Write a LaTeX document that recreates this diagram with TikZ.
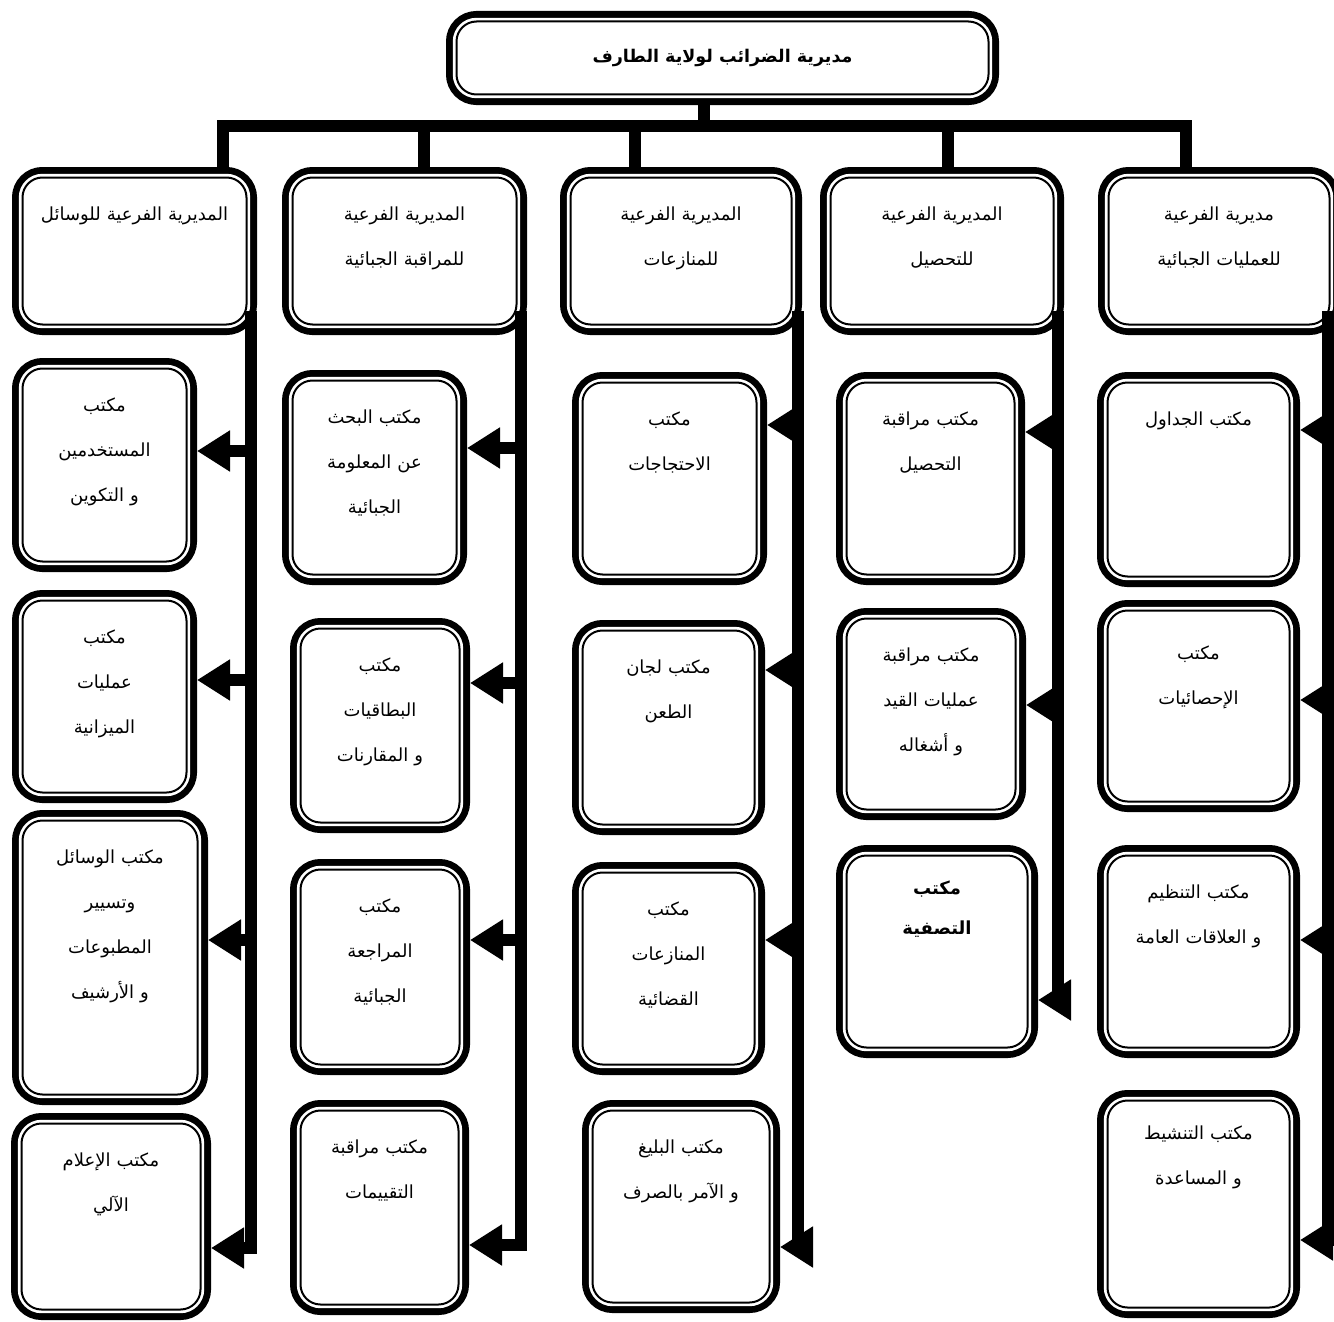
\documentclass[tikz,border=0pt]{standalone}
\usepackage{fontspec}
\usepackage{tikz}
\usetikzlibrary{arrows.meta}
\newfontfamily\arabicfont[Script=Arabic]{DejaVu Sans}
\TeXXeTstate=1
\newcommand{\arline}[1]{\beginR #1\endR}
\tikzset{
	bx/.style={draw, fill=white, line width=2pt, rounded corners=20pt, inner sep=0pt, outer sep=10.5pt,
		preaction={draw, line width=21pt}, preaction={draw=white, line width=7.4pt}},
	office/.style 2 args={bx, align=center, text width=#1, text height=43pt, text depth=#2,
		font=\arabicfont\fontsize{18}{45}\selectfont},
	link/.style={line width=12pt},
	trunk/.style={line width=12pt, line cap=rect},
	arr/.style={line width=12pt, -{Triangle[length=33pt, width=39pt]}}
}
\begin{document}
\begin{tikzpicture}[x=1pt, y=-1pt]
		\useasboundingbox (0,0) rectangle (1334,1322);
		\node[bx, minimum width=532pt, minimum height=73pt, font=\arabicfont\bfseries\fontsize{17.5}{20}\selectfont] (top) at (722.5,58) {\arline{مديرية الضرائب لولاية الطارف}};
		
		\node[office={224pt}{104pt}] (sub1) at (134.5,251) {\arline{المديرية الفرعية للوسائل}};
		\node[office={224pt}{104pt}] (sub2) at (404.5,251) {\arline{المديرية الفرعية}\\\arline{للمراقبة الجبائية}};
		\node[office={221pt}{104pt}] (sub3) at (681,251) {\arline{المديرية الفرعية}\\\arline{للمنازعات}};
		\node[office={223pt}{104pt}] (sub4) at (942,251) {\arline{المديرية الفرعية}\\\arline{للتحصيل}};
		\node[office={221pt}{104pt}] (sub5) at (1219,251) {\arline{مديرية الفرعية}\\\arline{للعمليات الجبائية}};
		
		\node[office={164pt}{150pt}] (o11) at (104.5,465) {\arline{مكتب}\\\arline{المستخدمين}\\\arline{و التكوين}};
		\node[office={164pt}{149pt}] (o12) at (104.5,696.5) {\arline{مكتب}\\\arline{عمليات}\\\arline{الميزانية}};
		\node[office={175pt}{231pt}] (o13) at (110,957.5) {\arline{مكتب الوسائل}\\\arline{وتسيير}\\\arline{المطبوعات}\\\arline{و الأرشيف}};
		\node[office={179pt}{143pt}] (o14) at (111,1216.5) {\arline{مكتب الإعلام}\\\arline{الآلي}};
		
		\node[office={164pt}{151pt}] (o21) at (374.5,477.5) {\arline{مكتب البحث}\\\arline{عن المعلومة}\\\arline{الجبائية}};
		\node[office={159pt}{151pt}] (o22) at (380,725.5) {\arline{مكتب}\\\arline{البطاقيات}\\\arline{و المقارنات}};
		\node[office={159pt}{152pt}] (o23) at (380,967) {\arline{مكتب}\\\arline{المراجعة}\\\arline{الجبائية}};
		\node[office={158pt}{151pt}] (o24) at (379.5,1207.5) {\arline{مكتب مراقبة}\\\arline{التقييمات}};
		
		\node[office={174pt}{149pt}] (o31) at (669.5,478.5) {\arline{مكتب}\\\arline{الاحتجاجات}};
		\node[office={172pt}{151pt}] (o32) at (668.5,727.5) {\arline{مكتب لجان}\\\arline{الطعن}};
		\node[office={172pt}{149pt}] (o33) at (668.5,968.5) {\arline{مكتب}\\\arline{المنازعات}\\\arline{القضائية}};
		\node[office={177pt}{149pt}] (o34) at (681,1206.5) {\arline{مكتب البليغ}\\\arline{و الآمر بالصرف}};
		
		\node[office={168pt}{149pt}] (o41) at (930.5,478.5) {\arline{مكتب مراقبة}\\\arline{التحصيل}};
		\node[office={169pt}{148pt}] (o42) at (931,714) {\arline{مكتب مراقبة}\\\arline{عمليات القيد}\\\arline{و أشغاله}};
		\node[office={181pt}{153pt}, text height=39pt, font=\arabicfont\bfseries\fontsize{18}{40}\selectfont] (o43) at (937,951.5) {\arline{مكتب}\\\arline{التصفية}};
		
		\node[office={182pt}{151pt}] (o51) at (1198.5,479.5) {\arline{مكتب الجداول}};
		\node[office={182pt}{142pt}, text height=49pt] (o52) at (1198.5,706) {\arline{مكتب}\\\arline{الإحصائيات}};
		\node[office={182pt}{149pt}] (o53) at (1198.5,951.5) {\arline{مكتب التنظيم}\\\arline{و العلاقات العامة}};
		\node[office={182pt}{168pt}, text height=39pt] (o54) at (1198.5,1204) {\arline{مكتب التنشيط}\\\arline{و المساعدة}};
		
		\coordinate (hub) at (704,125.5);
		\coordinate (d1) at ([xshift=88.5pt]sub1.north);
		\coordinate (d2) at ([xshift=19.5pt]sub2.north);
		\coordinate (d3) at ([xshift=-46pt]sub3.north);
		\coordinate (d4) at ([xshift=6pt]sub4.north);
		\coordinate (d5) at ([xshift=-33pt]sub5.north);
		
		\draw[link] (top.south -| hub) -- (hub);
		\draw[link] (d1) |- (hub) -| (d5);
		\draw[link] (d2) -- (d2 |- hub);
		\draw[link] (d3) -- (d3 |- hub);
		\draw[link] (d4) -- (d4 |- hub);
		
		\coordinate (t1) at ([xshift=-6pt, yshift=18pt]sub1.south east);
		\coordinate (t2) at ([xshift=-6pt, yshift=18pt]sub2.south east);
		\coordinate (t3) at ([xshift=-4pt, yshift=18pt]sub3.south east);
		\coordinate (t4) at ([xshift=-6pt, yshift=18pt]sub4.south east);
		\coordinate (t5) at ([xshift=-12pt, yshift=18pt]sub5.south east);
		
		\coordinate (a11) at ([yshift=14pt]o11.east);
		\coordinate (a12) at ([yshift=16.5pt]o12.east);
		\coordinate (a13) at ([yshift=17.5pt]o13.east);
		\coordinate (a14) at ([yshift=-31.5pt]o14.east);
		\coordinate (a21) at ([yshift=29.5pt]o21.east);
		\coordinate (a22) at ([yshift=42.5pt]o22.east);
		\coordinate (a23) at ([yshift=27pt]o23.east);
		\coordinate (a24) at ([yshift=-37.5pt]o24.east);
		\coordinate (a31) at ([yshift=53.5pt]o31.east);
		\coordinate (a32) at ([yshift=57.5pt]o32.east);
		\coordinate (a33) at ([yshift=28.5pt]o33.east);
		\coordinate (a34) at ([yshift=-40.5pt]o34.east);
		\coordinate (a41) at ([yshift=46.5pt]o41.east);
		\coordinate (a42) at ([yshift=9pt]o42.east);
		\coordinate (a43) at ([yshift=-48.5pt]o43.east);
		\coordinate (a51) at ([yshift=49.5pt]o51.east);
		\coordinate (a52) at ([yshift=6pt]o52.east);
		\coordinate (a53) at ([yshift=11.5pt]o53.east);
		\coordinate (a54) at ([yshift=-36pt]o54.east);
		
		\draw[trunk] (t1) -- (t1 |- a14);
		\draw[trunk] (t2) -- (t2 |- a24);
		\draw[trunk] (t3) -- (t3 |- a34);
		\draw[trunk] (t4) -- (t4 |- a43);
		\draw[trunk] (t5) -- (t5 |- a54);
		
		\draw[arr] (t1 |- a11) -- (a11);
		\draw[arr] (t1 |- a12) -- (a12);
		\draw[arr] (t1 |- a13) -- (a13);
		\draw[arr] (t1 |- a14) -- (a14);
		\draw[arr] (t2 |- a21) -- (a21);
		\draw[arr] (t2 |- a22) -- (a22);
		\draw[arr] (t2 |- a23) -- (a23);
		\draw[arr] (t2 |- a24) -- (a24);
		\draw[arr] (t3 |- a31) -- (a31);
		\draw[arr] (t3 |- a32) -- (a32);
		\draw[arr] (t3 |- a33) -- (a33);
		\draw[arr] (t3 |- a34) -- (a34);
		\draw[arr] (t4 |- a41) -- (a41);
		\draw[arr] (t4 |- a42) -- (a42);
		\draw[arr] (t4 |- a43) -- (a43);
		\draw[arr] (t5 |- a51) -- (a51);
		\draw[arr] (t5 |- a52) -- (a52);
		\draw[arr] (t5 |- a53) -- (a53);
		\draw[arr] (t5 |- a54) -- (a54);
\end{tikzpicture}
\end{document}
